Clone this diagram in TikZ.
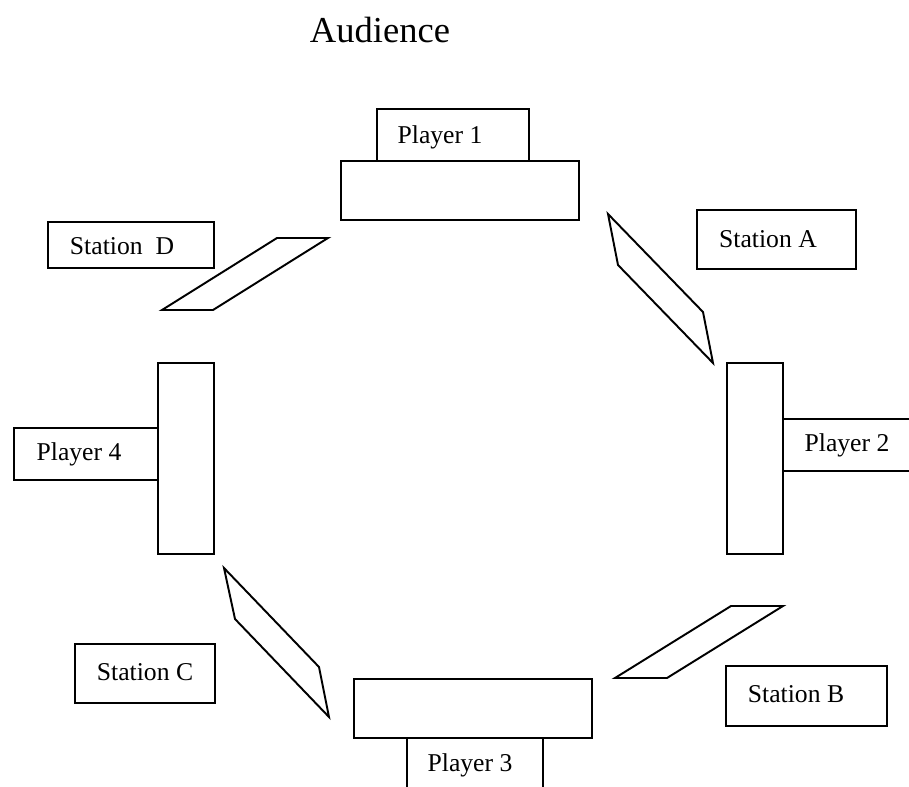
\documentclass[tikz,border=0pt]{standalone}
\usepackage{fontspec}
\setmainfont{Liberation Serif}
\usepackage{tikz}

\begin{document}
\begin{tikzpicture}[x=0.02cm, y=-0.02cm, line width=1.1pt]
  \tikzset{txt/.style={inner sep=0pt, font=\fontsize{14.6}{17}\selectfont},
           title/.style={inner sep=0pt, font=\fontsize{20.8}{24}\selectfont}}

  \useasboundingbox (0,0) rectangle (909,787);

  \node [title] (aud) at (380,30) {Audience};

  % desks
  \foreach \nm/\xa/\ya/\xb/\yb in {1/341/161/579/220, 2/727/363/783/554,
                                   3/354/679/592/738, 4/158/363/214/554} {
    \draw (\xa,\ya) coordinate (desk\nm-a) rectangle (\xb,\yb) coordinate (desk\nm-b);
  }

  % player name boxes
  \draw (377,161) -- (377,109) -- (529,109) -- (529,161);
  \draw (783,419) -- (909,419) (783,471) -- (909,471);
  \draw (407,738) -- (407,787) (543,738) -- (543,787);
  \draw (158,428) -- (14,428) -- (14,480) -- (158,480);

  \node [txt] (p1) at (440,137) {Player 1};
  \node [txt] (p2) at (847,445) {Player 2};
  \node [txt] (p3) at (470,765) {Player 3};
  \node [txt] (p4) at (79,454) {Player 4};

  % stations
  \foreach \nm/\xa/\ya/\xb/\yb/\tx/\ty/\lbl in {A/697/210/856/269/768/239/Station A,
                                                B/726/666/887/726/796/694/Station B,
                                                C/75/644/215/703/145/672/Station C,
                                                D/48/222/214/268/122/246/Station~~D} {
    \draw (\xa,\ya) rectangle (\xb,\yb);
    \node [txt] (st\nm) at (\tx,\ty) {\lbl};
  }

  % boards
  \draw (608,214) -- (703,312) -- (713,363) -- (618,265) -- cycle;
  \draw (731,606) -- (783,606) -- (667,678) -- (615,678) -- cycle;
  \draw (224,568) -- (319,667) -- (329,717) -- (235,619) -- cycle;
  \draw (277,238) -- (328,238) -- (213,310) -- (162,310) -- cycle;

\end{tikzpicture}
\end{document}
